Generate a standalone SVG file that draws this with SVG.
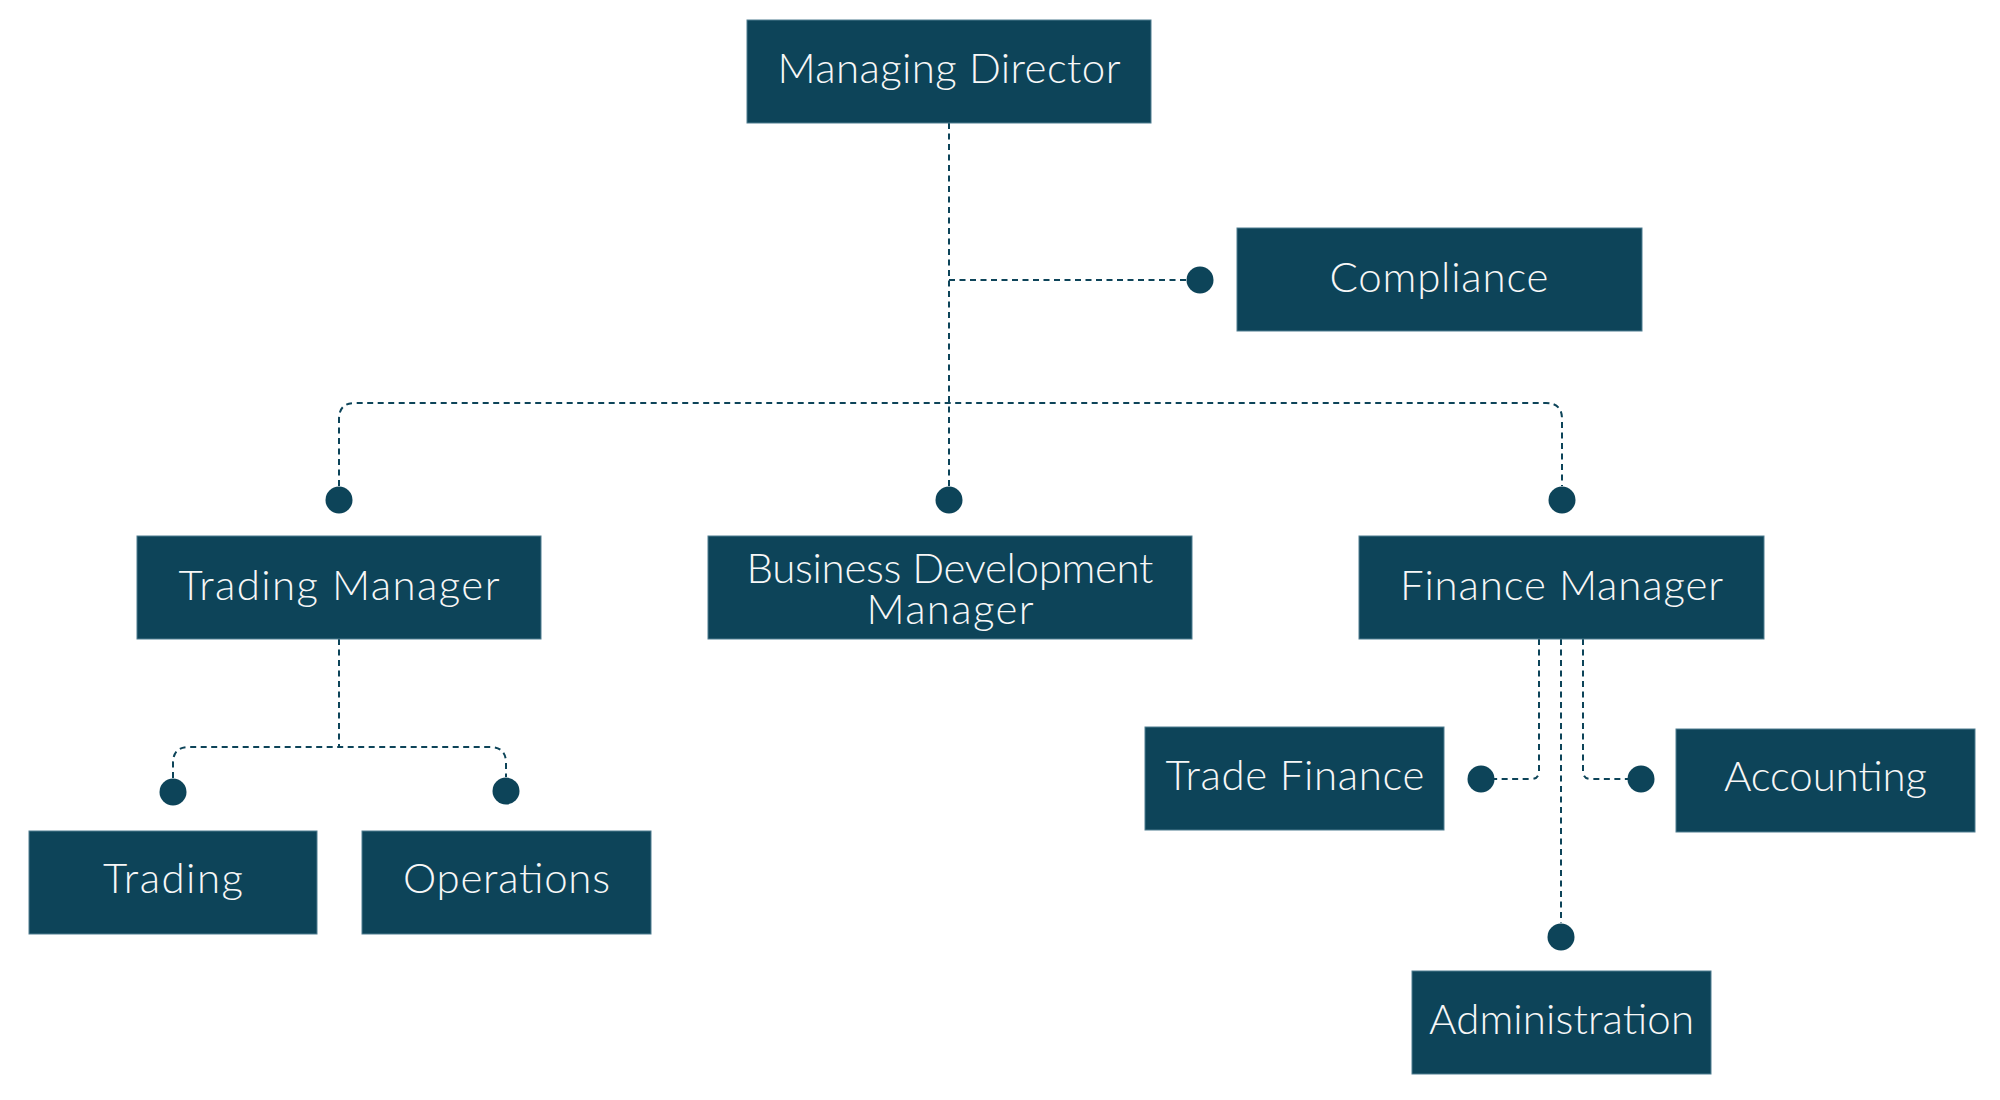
<svg xmlns="http://www.w3.org/2000/svg" width="2000" height="1100" viewBox="0 0 2000 1100">
<style>
.box{fill:#0d4459;stroke:#4f7d90;stroke-width:1}
.lbl{font-family:Lato,"Liberation Sans",sans-serif;font-weight:300;font-size:42px;fill:#f7f7f7;text-anchor:middle}
.con{fill:none;stroke:#0d4459;stroke-width:2;stroke-dasharray:6 4.5}
.dot{fill:#0d4459}
</style>
<rect width="2000" height="1100" fill="#ffffff"/>
<g id="connectors">
<path class="con" d="M949 123 V486"/>
<path class="con" d="M949 280 H1186"/>
<path class="con" d="M339 486 V419 Q339 403 355 403 H1546 Q1562 403 1562 419 V486"/>
<path class="con" d="M339 639 V747"/>
<path class="con" d="M173 778 V763 Q173 747 189 747 H490 Q506 747 506 763 V777"/>
<path class="con" d="M1539 639 V771 Q1539 779 1531 779 H1494"/>
<path class="con" d="M1561 639 V923"/>
<path class="con" d="M1583 639 V771 Q1583 779 1591 779 H1628"/>
<circle class="dot" cx="1200" cy="280" r="13.5"/>
<circle class="dot" cx="339" cy="500" r="13.5"/>
<circle class="dot" cx="949" cy="500" r="13.5"/>
<circle class="dot" cx="1562" cy="500" r="13.5"/>
<circle class="dot" cx="173" cy="792" r="13.5"/>
<circle class="dot" cx="506" cy="791" r="13.5"/>
<circle class="dot" cx="1481" cy="779" r="13.5"/>
<circle class="dot" cx="1641" cy="779" r="13.5"/>
<circle class="dot" cx="1561" cy="937" r="13.5"/>
</g>
<g id="managing-director">
<rect class="box" x="747" y="20" width="404" height="103"/>
<text class="lbl" x="949" y="83" textLength="343" lengthAdjust="spacing">Managing Director</text>
</g>
<g id="compliance">
<rect class="box" x="1237" y="228" width="405" height="103"/>
<text class="lbl" x="1439" y="292" textLength="219" lengthAdjust="spacing">Compliance</text>
</g>
<g id="trading-manager">
<rect class="box" x="137" y="536" width="404" height="103"/>
<text class="lbl" x="339" y="600" textLength="321" lengthAdjust="spacing">Trading Manager</text>
</g>
<g id="business-development-manager">
<rect class="box" x="708" y="536" width="484" height="103"/>
<text class="lbl" x="950" y="583" textLength="407" lengthAdjust="spacing">Business Development</text>
<text class="lbl" x="950" y="624" textLength="167" lengthAdjust="spacing">Manager</text>
</g>
<g id="finance-manager">
<rect class="box" x="1359" y="536" width="405" height="103"/>
<text class="lbl" x="1561.5" y="600" textLength="323" lengthAdjust="spacing">Finance Manager</text>
</g>
<g id="trading">
<rect class="box" x="29" y="831" width="288" height="103"/>
<text class="lbl" x="173" y="893" textLength="140" lengthAdjust="spacing">Trading</text>
</g>
<g id="operations">
<rect class="box" x="362" y="831" width="289" height="103"/>
<text class="lbl" x="506.5" y="893" textLength="207" lengthAdjust="spacing">Operations</text>
</g>
<g id="trade-finance">
<rect class="box" x="1145" y="727" width="299" height="103"/>
<text class="lbl" x="1295" y="790" textLength="259" lengthAdjust="spacing">Trade Finance</text>
</g>
<g id="accounting">
<rect class="box" x="1676" y="729" width="299" height="103"/>
<text class="lbl" x="1825.5" y="791" textLength="203" lengthAdjust="spacing">Accounting</text>
</g>
<g id="administration">
<rect class="box" x="1412" y="971" width="299" height="103"/>
<text class="lbl" x="1561.5" y="1034" textLength="265" lengthAdjust="spacing">Administration</text>
</g>
</svg>
